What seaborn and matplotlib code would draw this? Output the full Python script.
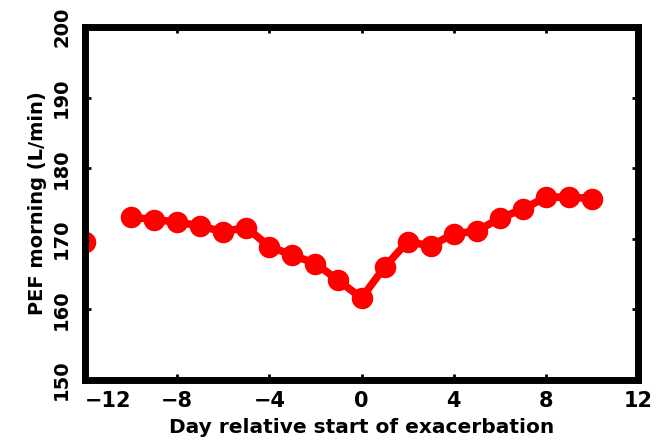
import numpy as np
import pandas as pd
import matplotlib
matplotlib.use("Agg")
import matplotlib.pyplot as plt
import seaborn as sns

days = [-12, -10, -9, -8, -7, -6, -5, -4, -3, -2, -1, 0, 1, 2, 3, 4, 5, 6, 7, 8, 9, 10]
pef = [169.5, 173.1, 172.7, 172.4, 171.8, 171.0, 171.6, 168.9, 167.7, 166.5, 164.1,
       161.6, 166.0, 169.6, 169.0, 170.7, 171.1, 172.9, 174.2, 175.9, 175.9, 175.7]
segment = [0] + [1] * 21
x_ticks = [-12, -8, -4, 0, 4, 8, 12]
y_ticks = [150, 160, 170, 180, 190, 200]

df = pd.DataFrame({"day": days, "pef": pef, "seg": segment})

sns.set_style("ticks")
plt.rcParams["font.family"] = ["DejaVu Sans"]
plt.rcParams["font.weight"] = "bold"
plt.rcParams["text.color"] = "black"
plt.rcParams["axes.labelcolor"] = "black"

fig = plt.figure(figsize=(6.57, 4.40), dpi=100)
ax = fig.add_axes([85 / 657, 1 - 380 / 440, (638 - 85) / 657, (380 - 27) / 440])

sns.lineplot(data=df, x="day", y="pef", units="seg", estimator=None, color="#ff0000",
             marker="o", markersize=15.5, markeredgewidth=0, linewidth=5.5, ax=ax,
             legend=False)

ax.set_xlim(-12, 12)
ax.set_ylim(150, 200)
ax.set_xticks(x_ticks)
ax.set_yticks(y_ticks)
ax.set_xticklabels([str(t).replace("-", "\u2212") for t in x_ticks], fontsize=15, fontweight="bold")
ax.set_yticklabels([str(t) for t in y_ticks], fontsize=14, fontweight="bold",
                   rotation=90, va="center")
ax.get_xticklabels()[0].set_ha("left")

ax.tick_params(direction="in", length=4, width=2, top=True, right=True, pad=8,
               colors="black", labelcolor="black")
ax.tick_params(axis="y", pad=10)
for s in ax.spines.values():
    s.set_linewidth(5)
    s.set_color("black")
    s.set_visible(True)

ax.set_xlabel("Day relative start of exacerbation", fontsize=14.5, fontweight="bold",
              labelpad=5, color="black")
ax.set_ylabel("PEF morning (L/min)", fontsize=14, fontweight="bold", color="black")
ax.yaxis.set_label_coords(-0.068, 0.5)

fig.savefig("out.png", dpi=100, facecolor="white")
